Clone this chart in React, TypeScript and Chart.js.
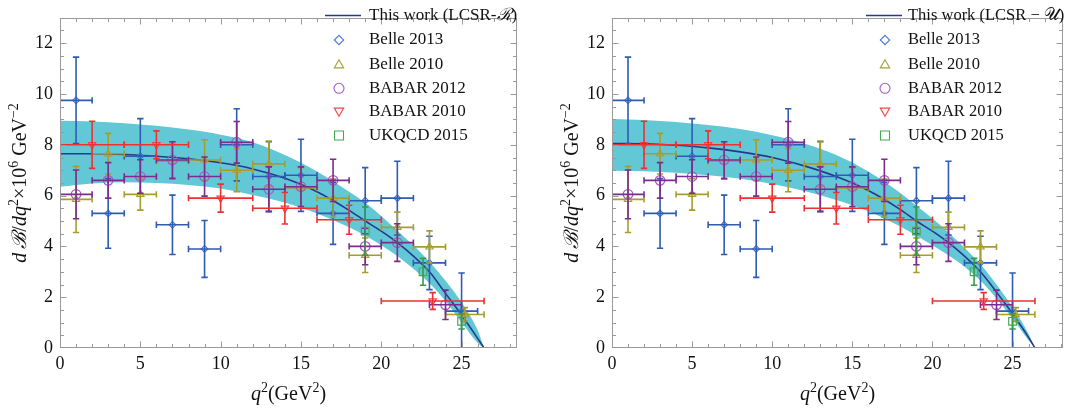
import React, { useEffect, useRef } from "react";
import { Chart, registerables } from "chart.js";

Chart.register(...registerables);

const FONT = '"Liberation Serif", "Times New Roman", serif';

// ---------- theory curves ----------
const theoryQ2 = [0, 2, 4, 6, 8, 10, 12, 14, 16, 18, 19, 20, 21, 22, 23, 24, 25, 26, 26.4];
const lcsrRCentral = [7.65, 7.65, 7.62, 7.55, 7.45, 7.29, 7.05, 6.68, 6.15, 5.42, 5.0, 4.6, 4.15, 3.62, 3.0, 2.15, 1.3, 0.38, 0];
const lcsrRUpper = [8.95, 8.92, 8.85, 8.75, 8.6, 8.4, 8.1, 7.6, 6.95, 6.15, 5.72, 5.2, 4.62, 4.05, 3.4, 2.65, 1.8, 0.7, 0];
const lcsrRLower = [6.35, 6.48, 6.53, 6.5, 6.42, 6.28, 6.02, 5.72, 5.3, 4.75, 4.42, 4.05, 3.62, 3.12, 2.55, 1.85, 1.0, 0.2, 0];
const lcsrUCentral = [8.05, 8.04, 7.98, 7.88, 7.72, 7.5, 7.17, 6.75, 6.2, 5.45, 5.0, 4.6, 4.15, 3.62, 3.0, 2.2, 1.35, 0.42, 0];
const lcsrUUpper = [9.02, 8.98, 8.9, 8.78, 8.62, 8.38, 8.05, 7.6, 6.95, 6.1, 5.6, 5.1, 4.55, 3.95, 3.3, 2.5, 1.6, 0.55, 0];
const lcsrULower = [6.98, 6.96, 6.9, 6.8, 6.66, 6.46, 6.18, 5.83, 5.38, 4.78, 4.42, 4.05, 3.65, 3.2, 2.65, 1.95, 1.15, 0.3, 0];

// ---------- experimental data ----------
const belle2013Q2 = [1, 3, 5, 7, 9, 11, 13, 15, 17, 19, 21, 23, 25];
const belle2013BinLo = [0, 2, 4, 6, 8, 10, 12, 14, 16, 18, 20, 22, 24];
const belle2013BinHi = [2, 4, 6, 8, 10, 12, 14, 16, 18, 20, 22, 24, 26];
const belle2013Val = [9.75, 5.3, 7.55, 4.85, 3.9, 8.0, 6.75, 6.8, 5.3, 5.8, 5.9, 3.35, 1.45];
const belle2013Err = [1.7, 1.37, 1.48, 1.17, 1.12, 1.42, 1.37, 1.42, 1.22, 1.3, 1.45, 1.05, 1.5];

const belle2010Q2 = [1, 3, 5, 7, 9, 11, 13, 15, 17, 19, 21, 23, 25.2];
const belle2010BinLo = [0, 2, 4, 6, 8, 10, 12, 14, 16, 18, 20, 22, 24];
const belle2010BinHi = [2, 4, 6, 8, 10, 12, 14, 16, 18, 20, 22, 24, 26.4];
const belle2010Val = [5.85, 7.65, 6.05, 7.35, 7.4, 7.0, 7.25, 6.3, 5.9, 3.65, 4.75, 3.98, 1.32];
const belle2010Err = [1.3, 0.8, 0.62, 0.7, 0.8, 0.85, 0.9, 0.8, 0.75, 0.68, 0.6, 0.63, 0.27];

const babar2012Q2 = [1, 3, 5, 7, 9, 11, 13, 15, 17, 19, 21, 24];
const babar2012BinLo = [0, 2, 4, 6, 8, 10, 12, 14, 16, 18, 20, 23];
const babar2012BinHi = [2, 4, 6, 8, 10, 12, 14, 16, 18, 20, 22, 25];
const babar2012Val = [6.05, 6.6, 6.75, 7.4, 6.75, 8.1, 6.25, 6.35, 6.6, 4.0, 4.15, 1.7];
const babar2012Err = [0.96, 0.7, 0.66, 0.72, 0.77, 0.82, 0.88, 0.78, 0.83, 0.72, 0.74, 0.58];

const babar2010Q2 = [2, 6, 10, 14, 18, 23.2];
const babar2010BinLo = [0, 4, 8, 12, 16, 20];
const babar2010BinHi = [4, 8, 12, 16, 20, 26.4];
const babar2010Val = [8.0, 8.0, 5.9, 5.5, 5.05, 1.85];
const babar2010Err = [0.93, 0.55, 0.55, 0.62, 0.57, 0.33];

const ukqcd2015Q2 = [19, 22.6, 25.0];
const ukqcd2015Val = [4.6, 3.0, 1.05];
const ukqcd2015Err = [0.95, 0.53, 0.3];

const xTickValues = [0, 5, 10, 15, 20, 25];
const yTickValues = [0, 2, 4, 6, 8, 10, 12];

// ---------- colours ----------
const BAND = "rgb(98,200,214)";
const NAVY = "#27398c";
const C_B13 = { m: "#4a78d6", b: "#2f5bb3" };
const C_B10 = { m: "#a8a23c", b: "#a69d2e" };
const C_BA12 = { m: "#a55ac4", b: "#7a2d8c" };
const C_BA10 = { m: "#f24444", b: "#ee3030" };
const C_UK = { m: "#48aa55", b: "#3a9a45" };

type Seg = { t: string; it?: boolean; sup?: boolean };

function segFont(s: Seg, size: number) {
  const sz = s.sup ? Math.round(size * 0.7) : size;
  return `${s.it ? "italic " : ""}${sz}px ${FONT}`;
}
function measureRich(ctx: CanvasRenderingContext2D, segs: Seg[], size: number) {
  let w = 0;
  for (const s of segs) {
    ctx.font = segFont(s, size);
    w += ctx.measureText(s.t).width;
  }
  return w;
}
function drawRich(ctx: CanvasRenderingContext2D, segs: Seg[], x: number, y: number, size: number) {
  let cx = x;
  for (const s of segs) {
    ctx.font = segFont(s, size);
    ctx.fillText(s.t, cx, s.sup ? y - size * 0.4 : y);
    cx += ctx.measureText(s.t).width;
  }
}

function drawMarker(ctx: CanvasRenderingContext2D, style: string, x: number, y: number, r: number) {
  ctx.beginPath();
  if (style === "diamond") {
    ctx.moveTo(x, y - r); ctx.lineTo(x + r, y); ctx.lineTo(x, y + r); ctx.lineTo(x - r, y); ctx.closePath();
  } else if (style === "up") {
    const h = r * 1.732;
    ctx.moveTo(x, y - h * 0.55); ctx.lineTo(x + r, y + h * 0.45); ctx.lineTo(x - r, y + h * 0.45); ctx.closePath();
  } else if (style === "down") {
    const h = r * 1.732;
    ctx.moveTo(x, y + h * 0.55); ctx.lineTo(x + r, y - h * 0.45); ctx.lineTo(x - r, y - h * 0.45); ctx.closePath();
  } else if (style === "circle") {
    ctx.arc(x, y, r, 0, Math.PI * 2);
  } else {
    ctx.rect(x - r, y - r, 2 * r, 2 * r);
  }
  ctx.stroke();
}

const errorBarPlugin = {
  id: "errorBars",
  afterDatasetDraw(chart: any, args: any) {
    const ds = chart.data.datasets[args.index];
    if (!ds.errY) return;
    const { ctx, chartArea: a, scales } = chart;
    const xs = scales.x, ys = scales.y;
    ctx.save();
    ctx.beginPath();
    ctx.rect(a.left, a.top, a.right - a.left, a.bottom - a.top);
    ctx.clip();
    ctx.strokeStyle = ds.barColor;
    ctx.lineWidth = 1.6;
    const cap = 3.2;
    ds.data.forEach((p: any, i: number) => {
      const px = xs.getPixelForValue(p.x), py = ys.getPixelForValue(p.y);
      const y1 = ys.getPixelForValue(p.y + ds.errY[i]), y2 = ys.getPixelForValue(p.y - ds.errY[i]);
      ctx.beginPath();
      ctx.moveTo(px, y1); ctx.lineTo(px, y2);
      ctx.moveTo(px - cap, y1); ctx.lineTo(px + cap, y1);
      ctx.moveTo(px - cap, y2); ctx.lineTo(px + cap, y2);
      if (ds.binLo) {
        const x1 = xs.getPixelForValue(ds.binLo[i]), x2 = xs.getPixelForValue(ds.binHi[i]);
        ctx.moveTo(x1, py); ctx.lineTo(x2, py);
        ctx.moveTo(x1, py - cap); ctx.lineTo(x1, py + cap);
        ctx.moveTo(x2, py - cap); ctx.lineTo(x2, py + cap);
      }
      ctx.stroke();
    });
    ctx.restore();
  },
};

const framePlugin = {
  id: "frame",
  afterDatasetsDraw(chart: any) {
    const { ctx, chartArea: a, scales } = chart;
    const xs = scales.x, ys = scales.y;
    ctx.save();
    ctx.strokeStyle = "#9a9a9a";
    ctx.lineWidth = 1;
    const L = Math.round(a.left) + 0.5, R = Math.round(a.right) - 0.5;
    const T = Math.round(a.top) + 0.5, B = Math.round(a.bottom) - 0.5;
    ctx.strokeRect(L, T, R - L, B - T);
    ctx.beginPath();
    for (let k = 1; k <= Math.floor(xs.max); k++) {
      const len = k % 5 === 0 ? 6 : 3.5;
      const px = Math.round(xs.getPixelForValue(k)) + 0.5;
      ctx.moveTo(px, B); ctx.lineTo(px, B - len);
      ctx.moveTo(px, T); ctx.lineTo(px, T + len);
    }
    for (let k = 1; k * 0.5 < ys.max; k++) {
      const len = k % 4 === 0 ? 6 : 3.5;
      const py = Math.round(ys.getPixelForValue(k * 0.5)) + 0.5;
      ctx.moveTo(L, py); ctx.lineTo(L + len, py);
      ctx.moveTo(R, py); ctx.lineTo(R - len, py);
    }
    ctx.stroke();
    ctx.restore();
  },
};

const yTitle: Seg[] = [
  { t: "d", it: true }, { t: "\u2009" }, { t: "ℬ", it: true }, { t: "/" }, { t: "dq", it: true }, { t: "2", sup: true },
  { t: "×10" }, { t: "6", sup: true }, { t: " GeV" }, { t: "−2", sup: true },
];
const xTitle: Seg[] = [{ t: "q", it: true }, { t: "2", sup: true }, { t: "(GeV" }, { t: "2", sup: true }, { t: ")" }];

type PanelProps = {
  left: number;
  width: number;
  height: number;
  plotLeft: number;
  plotRight: number;
  plotTop: number;
  plotBottom: number;
  xMax: number;
  central: number[];
  upper: number[];
  lower: number[];
  theoryLabel: Seg[];
  legendSymX: number;
  legendTextX: number;
  legendLine: [number, number];
  legendFont: number;
};

function Panel(p: PanelProps) {
  const ref = useRef<HTMLCanvasElement | null>(null);
  useEffect(() => {
    const canvas = ref.current;
    if (!canvas) return;
    const pts = (xs: number[], ys: number[]) => xs.map((x, i) => ({ x, y: ys[i] }));
    const exp = (label: string, q: number[], v: number[], e: number[], lo: number[] | null, hi: number[] | null,
      style: any, rot: number, radius: number, col: { m: string; b: string }, order: number) => ({
      type: "scatter",
      label,
      data: pts(q, v),
      pointStyle: style,
      rotation: rot,
      pointRadius: radius,
      pointBorderWidth: 1.2,
      borderColor: col.m,
      backgroundColor: "rgba(0,0,0,0)",
      order,
      errY: e,
      binLo: lo,
      binHi: hi,
      barColor: col.b,
    });
    const datasets: any[] = [
      {
        type: "scatter", label: "lower", data: pts(theoryQ2, p.lower), showLine: true, borderWidth: 0,
        borderColor: "rgba(0,0,0,0)", pointRadius: 0, fill: false, cubicInterpolationMode: "monotone", order: 30,
      },
      {
        type: "scatter", label: "upper", data: pts(theoryQ2, p.upper), showLine: true, borderWidth: 0,
        borderColor: "rgba(0,0,0,0)", backgroundColor: BAND, pointRadius: 0, fill: "-1", cubicInterpolationMode: "monotone", order: 29,
      },
      {
        type: "scatter", label: "This work", data: pts(theoryQ2, p.central), showLine: true, borderWidth: 1.6,
        borderColor: NAVY, pointRadius: 0, fill: false, cubicInterpolationMode: "monotone", order: 20,
      },
      exp("Belle 2013", belle2013Q2, belle2013Val, belle2013Err, belle2013BinLo, belle2013BinHi, "rectRot", 0, 3.3, C_B13, 5),
      exp("Belle 2010", belle2010Q2, belle2010Val, belle2010Err, belle2010BinLo, belle2010BinHi, "triangle", 0, 4.2, C_B10, 4),
      exp("BABAR 2012", babar2012Q2, babar2012Val, babar2012Err, babar2012BinLo, babar2012BinHi, "circle", 0, 4.8, C_BA12, 3),
      exp("BABAR 2010", babar2010Q2, babar2010Val, babar2010Err, babar2010BinLo, babar2010BinHi, "triangle", 180, 4.2, C_BA10, 2),
      exp("UKQCD 2015", ukqcd2015Q2, ukqcd2015Val, ukqcd2015Err, null, null, "rect", 0, 5.4, C_UK, 1),
    ];

    const titlePlugin = {
      id: "axisTitles",
      afterDraw(chart: any) {
        const { ctx, chartArea: a } = chart;
        ctx.save();
        ctx.fillStyle = "#111";
        ctx.textBaseline = "alphabetic";
        const ys = 20;
        const wy = measureRich(ctx, yTitle, ys);
        ctx.translate(a.left - 34.5, (a.top + a.bottom) / 2);
        ctx.rotate(-Math.PI / 2);
        drawRich(ctx, yTitle, -wy / 2, 0, ys);
        ctx.restore();
        ctx.save();
        ctx.fillStyle = "#111";
        const wx = measureRich(ctx, xTitle, 20);
        drawRich(ctx, xTitle, (a.left + a.right) / 2 - wx / 2, 400, 20);
        ctx.restore();
      },
    };

    const legendRows = [
      { label: "Belle 2013", style: "diamond", col: C_B13.m, r: 4.7 },
      { label: "Belle 2010", style: "up", col: C_B10.m, r: 4.7 },
      { label: "BABAR 2012", style: "circle", col: C_BA12.m, r: 5 },
      { label: "BABAR 2010", style: "down", col: C_BA10.m, r: 4.7 },
      { label: "UKQCD 2015", style: "rect", col: C_UK.m, r: 4.5 },
    ];
    const legendPlugin = {
      id: "panelLegend",
      afterDraw(chart: any) {
        const { ctx } = chart;
        ctx.save();
        ctx.textBaseline = "middle";
        ctx.fillStyle = "#111";
        const rowY = [15.5, 40, 64.2, 88.3, 111.8, 135.5];
        ctx.strokeStyle = NAVY;
        ctx.lineWidth = 1.6;
        ctx.beginPath();
        ctx.moveTo(p.legendLine[0], rowY[0]);
        ctx.lineTo(p.legendLine[1], rowY[0]);
        ctx.stroke();
        drawRich(ctx, p.theoryLabel, p.legendTextX, rowY[0], p.legendFont);
        legendRows.forEach((r, i) => {
          ctx.strokeStyle = r.col;
          ctx.lineWidth = 1.1;
          drawMarker(ctx, r.style, p.legendSymX, rowY[i + 1], r.r);
          ctx.font = `${p.legendFont}px ${FONT}`;
          ctx.fillText(r.label, p.legendTextX, rowY[i + 1]);
        });
        ctx.restore();
      },
    };

    const chart = new Chart(canvas, {
      type: "scatter",
      data: { datasets },
      options: {
        responsive: false,
        animation: false,
        events: [],
        layout: { padding: { top: p.plotTop, right: p.width - p.plotRight, bottom: 0, left: 0 } },
        scales: {
          x: {
            type: "linear",
            min: 0,
            max: p.xMax,
            afterFit: (s: any) => { s.height = p.height - p.plotBottom; },
            afterBuildTicks: (s: any) => { s.ticks = xTickValues.map((v) => ({ value: v })); },
            grid: { display: false, drawTicks: false },
            border: { display: false },
            ticks: { padding: 5, font: { family: FONT, size: 18 }, color: "#111", maxRotation: 0, autoSkip: false },
          },
          y: {
            type: "linear",
            min: 0,
            max: 13,
            afterFit: (s: any) => { s.width = p.plotLeft; },
            afterBuildTicks: (s: any) => { s.ticks = yTickValues.map((v) => ({ value: v })); },
            grid: { display: false, drawTicks: false },
            border: { display: false },
            ticks: { padding: 7, font: { family: FONT, size: 18 }, color: "#111", autoSkip: false },
          },
        },
        plugins: { legend: { display: false }, tooltip: { enabled: false } },
      } as any,
      plugins: [errorBarPlugin, framePlugin, titlePlugin, legendPlugin],
    } as any);
    return () => chart.destroy();
  }, []);
  return (
    <canvas
      ref={ref}
      width={p.width}
      height={p.height}
      style={{ position: "absolute", left: p.left, top: 0, width: p.width, height: p.height }}
    />
  );
}

export default function App() {
  return (
    <div style={{ position: "absolute", left: 0, top: 0, width: 1072, height: 409, background: "#fff" }}>
      <Panel
        left={0}
        width={536}
        height={409}
        plotLeft={60}
        plotRight={517}
        plotTop={6}
        plotBottom={348}
        xMax={28.45}
        central={lcsrRCentral}
        upper={lcsrRUpper}
        lower={lcsrRLower}
        theoryLabel={[{ t: "This work (LCSR-" }, { t: "ℛ", it: true }, { t: ")" }]}
        legendSymX={339}
        legendTextX={369}
        legendLine={[325, 361]}
        legendFont={17}
      />
      <Panel
        left={536}
        width={536}
        height={409}
        plotLeft={76}
        plotRight={527}
        plotTop={6}
        plotBottom={348}
        xMax={28.15}
        central={lcsrUCentral}
        upper={lcsrUUpper}
        lower={lcsrULower}
        theoryLabel={[{ t: "This work (LCSR − " }, { t: "𝒰" }, { t: ")" }]}
        legendSymX={349}
        legendTextX={372}
        legendLine={[330, 366]}
        legendFont={16.5}
      />
    </div>
  );
}
